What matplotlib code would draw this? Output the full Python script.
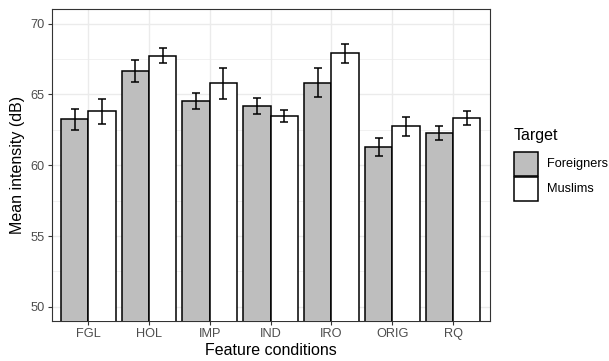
import numpy as np
import matplotlib
matplotlib.use("Agg")
import matplotlib.pyplot as plt
from matplotlib.patches import Rectangle

plt.rcParams['font.family'] = ['Liberation Sans', 'DejaVu Sans']

conditions = ["FGL", "HOL", "IMP", "IND", "IRO", "ORIG", "RQ"]
foreigners = [63.23, 66.65, 64.52, 64.17, 65.83, 61.31, 62.30]
foreigners_err = [0.76, 0.75, 0.57, 0.56, 1.03, 0.64, 0.49]
muslims = [63.80, 67.73, 65.78, 63.49, 67.89, 62.74, 63.35]
muslims_err = [0.90, 0.53, 1.08, 0.43, 0.64, 0.66, 0.51]

W, H = 609, 361
fig = plt.figure(figsize=(W / 100, H / 100), dpi=100)
ax = fig.add_axes([0.0849, 0.1108, 0.7189, 0.8632])

x = np.arange(len(conditions))
w = 0.45
grid = "#EBEBEB"
fills = ["#BEBEBE", "white"]

ax.bar(x - w / 2, foreigners, w, color=fills[0], edgecolor="black",
       linewidth=1.1, zorder=3)
ax.bar(x + w / 2, muslims, w, color=fills[1], edgecolor="black",
       linewidth=1.1, zorder=3)
ax.errorbar(x - w / 2, foreigners, yerr=foreigners_err, fmt="none", ecolor="black",
            elinewidth=1.1, capsize=2.8, capthick=1.1, zorder=4)
ax.errorbar(x + w / 2, muslims, yerr=muslims_err, fmt="none", ecolor="black",
            elinewidth=1.1, capsize=2.8, capthick=1.1, zorder=4)

ax.set_xlim(-0.6, len(conditions) - 0.4)
ax.set_ylim(49, 71)
ax.set_xticks(x)
ax.set_xticklabels(conditions)
ax.set_yticks([50, 55, 60, 65, 70])
ax.set_yticks([52.5, 57.5, 62.5, 67.5], minor=True)

ax.grid(True, which="major", color=grid, linewidth=1.0, zorder=0)
ax.grid(True, which="minor", axis="y", color=grid, linewidth=0.5, zorder=0)
ax.set_axisbelow(True)

for s in ax.spines.values():
    s.set_color("#333333")
    s.set_linewidth(0.8)

ax.tick_params(which="major", length=3, width=0.8, color="#333333",
               labelcolor="#4D4D4D", labelsize=9.2, pad=2)
ax.tick_params(which="minor", length=0)

ax.set_xlabel("Feature conditions", fontsize=11.5, labelpad=2)
ax.set_ylabel("Mean intensity (dB)", fontsize=11.5, labelpad=4)

# legend, ggplot style (key boxes stacked)
fig.text(514 / W, 1 - 136 / H, "Target", fontsize=11.5, va="center", ha="left")
for i, (lab, fc) in enumerate(zip(["Foreigners", "Muslims"], fills)):
    top = 152 + i * 25
    fig.patches.append(Rectangle((514 / W, 1 - (top + 24) / H), 24 / W, 24 / H,
                                 transform=fig.transFigure, facecolor=fc,
                                 edgecolor="black", linewidth=1.1))
    fig.text(547 / W, 1 - (top + 12) / H, lab, fontsize=9.2, va="center", ha="left")

fig.savefig("out.png", dpi=100)
